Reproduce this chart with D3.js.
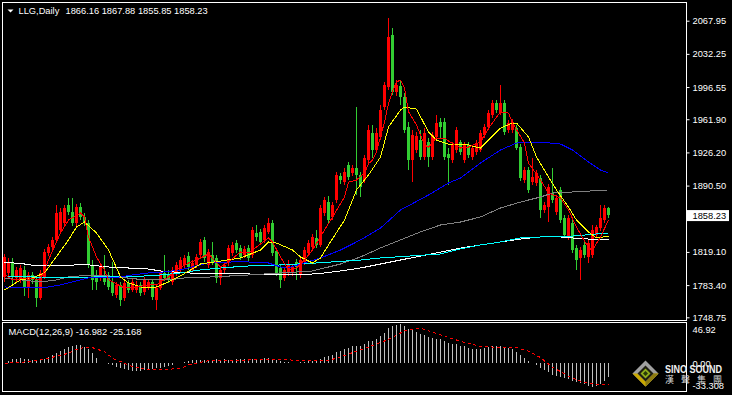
<!DOCTYPE html>
<html>
<head>
<meta charset="utf-8">
<script src="https://cdn.jsdelivr.net/npm/d3@7.9.0/dist/d3.min.js"></script>
<style>
  html, body { margin: 0; padding: 0; background: #000; }
  svg { display: block; }
</style>
</head>
<body>
<div id="chart"></div>
<script>
// daily OHLC, oldest first
const openP = [
  1792.2, 1796.5, 1808.3, 1791.1, 1789.0, 1799.7, 1781.4, 1794.3, 1789.0, 1769.6,
  1792.2, 1818.0, 1824.4, 1832.0, 1842.7, 1850.2, 1869.6, 1862.0, 1850.2, 1867.4,
  1856.7, 1850.2, 1805.1, 1794.3, 1791.1, 1794.3, 1793.3, 1786.8, 1772.8, 1783.6,
  1769.6, 1785.7, 1778.2, 1778.2, 1783.6, 1776.0, 1781.4, 1786.8, 1767.4, 1780.3,
  1796.5, 1795.4, 1786.8, 1796.5, 1799.7, 1805.1, 1814.8, 1799.7, 1805.1, 1815.8,
  1832.0, 1805.1, 1815.8, 1812.6, 1791.1, 1799.7, 1807.2, 1818.0, 1828.7, 1823.4,
  1815.8, 1823.4, 1815.8, 1839.5, 1840.6, 1832.0, 1840.6, 1850.2, 1820.1, 1801.9,
  1791.1, 1796.5, 1797.6, 1808.3, 1794.3, 1808.3, 1818.0, 1824.4, 1834.1, 1826.6,
  1861.0, 1872.8, 1856.7, 1875.0, 1900.8, 1894.3, 1912.6, 1904.0, 1909.4, 1901.9,
  1896.5, 1918.0, 1947.1, 1928.8, 1942.8, 1975.0, 1996.6, 2052.5, 1991.2, 1997.6,
  1985.8, 1953.5, 1918.0, 1928.8, 1939.5, 1921.2, 1937.4, 1921.2, 1942.8, 1958.9,
  1958.9, 1924.5, 1918.0, 1928.8, 1937.4, 1918.0, 1934.2, 1921.2, 1926.6, 1928.8,
  1944.9, 1953.5, 1966.4, 1979.3, 1969.7, 1979.3, 1950.3, 1950.3, 1952.4, 1932.0,
  1896.5, 1907.2, 1894.3, 1893.3, 1898.6, 1864.2, 1867.4, 1882.5, 1862.0, 1885.8,
  1855.6, 1835.2, 1850.2, 1823.4, 1812.6, 1826.6, 1813.7, 1815.8, 1837.3, 1844.8,
  1853.4, 1866.16
];
const highP = [
  1816.9, 1812.6, 1812.6, 1802.9, 1805.1, 1804.0, 1797.6, 1797.6, 1792.2, 1799.7,
  1822.3, 1827.7, 1835.2, 1869.6, 1866.4, 1869.6, 1877.1, 1877.1, 1870.7, 1871.7,
  1861.0, 1853.4, 1810.4, 1799.7, 1806.1, 1815.8, 1797.6, 1808.3, 1786.8, 1786.8,
  1789.0, 1789.0, 1790.0, 1787.9, 1786.8, 1792.2, 1790.0, 1790.0, 1783.6, 1799.7,
  1815.8, 1799.7, 1802.9, 1808.3, 1813.7, 1815.8, 1819.1, 1810.4, 1816.9, 1833.0,
  1835.2, 1822.3, 1829.8, 1815.8, 1802.9, 1808.3, 1826.6, 1829.8, 1832.0, 1826.6,
  1825.5, 1826.6, 1845.9, 1848.1, 1843.8, 1848.1, 1855.6, 1853.4, 1823.4, 1805.1,
  1802.9, 1810.4, 1806.1, 1811.5, 1813.7, 1824.4, 1832.0, 1838.4, 1842.7, 1869.6,
  1878.2, 1879.3, 1872.8, 1905.1, 1904.0, 1909.4, 1915.9, 1912.6, 1975.0, 1905.1,
  1923.4, 1955.7, 1955.7, 1952.4, 1977.2, 2002.0, 2070.8, 2060.1, 2004.1, 2004.1,
  1990.1, 1958.9, 1950.3, 1948.1, 1950.3, 1952.4, 1941.7, 1948.1, 1966.4, 1963.2,
  1963.2, 1930.9, 1937.4, 1953.5, 1939.5, 1937.4, 1937.4, 1934.2, 1939.5, 1950.3,
  1956.8, 1971.8, 1982.6, 1982.6, 1998.7, 1982.6, 1961.1, 1962.1, 1955.7, 1935.2,
  1910.5, 1910.5, 1920.2, 1907.2, 1901.9, 1872.8, 1892.2, 1909.4, 1880.4, 1889.0,
  1858.8, 1858.8, 1853.4, 1826.6, 1824.4, 1832.0, 1832.0, 1848.1, 1848.1, 1869.6,
  1869.6, 1867.88
];
const lowP = [
  1786.8, 1793.3, 1783.6, 1786.8, 1785.7, 1771.7, 1769.6, 1784.7, 1759.8, 1767.4,
  1790.0, 1814.8, 1821.2, 1829.8, 1840.6, 1847.0, 1858.8, 1847.0, 1847.0, 1853.4,
  1847.0, 1801.9, 1778.2, 1778.2, 1787.9, 1783.6, 1778.2, 1771.7, 1769.6, 1760.9,
  1766.3, 1775.0, 1776.0, 1775.0, 1771.7, 1772.8, 1778.2, 1767.4, 1756.6, 1778.2,
  1787.9, 1785.7, 1783.6, 1793.3, 1797.6, 1801.9, 1799.7, 1797.6, 1801.9, 1812.6,
  1808.3, 1801.9, 1805.1, 1785.7, 1783.6, 1796.5, 1804.0, 1814.8, 1818.0, 1810.4,
  1812.6, 1808.3, 1812.6, 1830.9, 1826.6, 1828.7, 1838.4, 1814.8, 1793.3, 1780.3,
  1787.9, 1793.3, 1793.3, 1789.0, 1791.1, 1805.1, 1814.8, 1821.2, 1823.4, 1824.4,
  1857.7, 1850.2, 1853.4, 1871.7, 1892.2, 1891.1, 1896.5, 1900.8, 1880.4, 1878.2,
  1893.3, 1914.8, 1920.2, 1925.5, 1939.5, 1971.8, 1993.3, 1988.0, 1986.9, 1977.2,
  1947.1, 1907.2, 1894.3, 1925.5, 1918.0, 1918.0, 1910.5, 1918.0, 1939.5, 1941.7,
  1918.0, 1891.1, 1914.8, 1925.5, 1923.4, 1914.8, 1920.2, 1918.0, 1923.4, 1926.6,
  1941.7, 1950.3, 1963.2, 1968.6, 1966.4, 1944.9, 1947.1, 1947.1, 1928.8, 1895.4,
  1893.3, 1882.5, 1891.1, 1890.0, 1855.6, 1861.0, 1851.3, 1871.7, 1858.8, 1850.2,
  1834.1, 1832.0, 1818.0, 1799.7, 1789.0, 1812.6, 1807.2, 1812.6, 1834.1, 1841.6,
  1850.2, 1855.85
];
const closeP = [
  1813.7, 1808.3, 1792.2, 1799.7, 1801.9, 1781.4, 1794.3, 1789.0, 1769.6, 1796.5,
  1819.1, 1824.4, 1832.0, 1861.0, 1862.0, 1866.4, 1862.0, 1850.2, 1867.4, 1856.7,
  1850.2, 1805.1, 1789.0, 1786.8, 1802.9, 1786.8, 1781.4, 1775.0, 1783.6, 1767.4,
  1785.7, 1778.2, 1786.8, 1783.6, 1775.0, 1789.0, 1786.8, 1770.6, 1780.3, 1796.5,
  1791.1, 1789.0, 1799.7, 1805.1, 1810.4, 1812.6, 1802.9, 1807.2, 1813.7, 1829.8,
  1812.6, 1819.1, 1808.3, 1791.1, 1799.7, 1805.1, 1823.4, 1826.6, 1821.2, 1813.7,
  1822.3, 1812.6, 1842.7, 1835.2, 1829.8, 1844.8, 1850.2, 1818.0, 1796.5, 1789.0,
  1799.7, 1806.1, 1802.9, 1802.9, 1810.4, 1821.2, 1828.7, 1835.2, 1826.6, 1866.4,
  1875.0, 1853.4, 1869.6, 1901.9, 1896.5, 1905.1, 1899.7, 1909.4, 1901.9, 1889.0,
  1920.2, 1950.3, 1928.8, 1947.1, 1971.8, 1998.7, 2050.4, 1991.2, 1998.7, 1985.8,
  1950.3, 1918.0, 1944.9, 1943.8, 1921.2, 1947.1, 1921.2, 1944.9, 1957.8, 1953.5,
  1921.2, 1920.2, 1934.2, 1950.3, 1926.6, 1934.2, 1923.4, 1930.9, 1936.3, 1947.1,
  1953.5, 1968.6, 1979.3, 1971.8, 1979.3, 1948.1, 1957.8, 1958.9, 1930.9, 1898.6,
  1907.2, 1885.8, 1899.7, 1904.0, 1864.2, 1869.6, 1889.0, 1875.0, 1877.1, 1853.4,
  1837.3, 1855.6, 1821.2, 1810.4, 1821.2, 1815.8, 1828.7, 1842.7, 1845.9, 1855.6,
  1866.4, 1858.23
];

// moving averages: [bar index, price]
const maRed = [
  [0, 1795.0], [2, 1789.0], [6, 1791.1], [9, 1789.0], [11, 1810.4], [14, 1839.5], [16, 1853.4],
  [19, 1861.0], [20, 1856.7], [21, 1835.2], [23, 1813.7], [25, 1799.7], [26, 1789.0], [30, 1780.3],
  [33, 1781.4], [36, 1783.6], [38, 1783.6], [41, 1792.2], [43, 1799.7], [46, 1807.2], [48, 1810.4],
  [51, 1816.9], [54, 1802.9], [56, 1808.3], [59, 1819.1], [61, 1818.0], [63, 1824.4], [66, 1834.1],
  [67, 1829.8], [69, 1813.7], [71, 1799.7], [73, 1801.9], [75, 1810.4], [77, 1821.2], [80, 1842.7],
  [82, 1856.7], [85, 1878.2], [86, 1894.3], [88, 1896.5], [90, 1904.0], [91, 1914.0], [92, 1918.0],
  [93, 1927.0], [94, 1943.0], [95, 1959.0], [96, 1979.0], [97, 1992.0], [98, 2002.0], [99, 2004.0],
  [100, 1996.0], [101, 1970.0], [103, 1955.7], [105, 1934.2], [106, 1932.0], [108, 1941.7],
  [110, 1941.7], [111, 1938.5], [114, 1930.9], [116, 1932.0], [119, 1937.4], [121, 1952.4],
  [124, 1969.7], [126, 1968.6], [127, 1957.8], [130, 1936.3], [131, 1914.8], [134, 1896.5],
  [136, 1882.5], [139, 1877.1], [141, 1864.2], [143, 1845.9], [146, 1823.4], [147, 1821.2],
  [149, 1835.2], [151, 1853.4]
];
const maYellow = [
  [0, 1778.1], [4, 1789.0], [7, 1791.1], [10, 1796.5], [12, 1808.3], [16, 1832.0], [18, 1845.9],
  [20, 1851.3], [23, 1839.5], [26, 1821.2], [29, 1792.2], [31, 1785.7], [35, 1780.3], [38, 1781.4],
  [41, 1786.8], [44, 1793.3], [49, 1806.1], [54, 1809.3], [59, 1812.6], [64, 1821.2], [66, 1829.8],
  [68, 1828.7], [72, 1821.2], [74, 1813.7], [77, 1807.2], [79, 1812.6], [81, 1826.6], [85, 1853.4],
  [88, 1885.8], [91, 1901.9], [94, 1921.2], [96, 1953.5], [99, 1971.8], [100, 1975.0], [103, 1972.9],
  [106, 1948.1], [108, 1939.5], [111, 1935.2], [116, 1934.2], [119, 1930.9], [121, 1939.5],
  [124, 1952.4], [127, 1957.8], [128, 1957.8], [131, 1942.8], [133, 1921.2], [136, 1899.7],
  [138, 1885.8], [141, 1867.4], [143, 1853.4], [146, 1840.6], [148, 1834.1], [151, 1836.2]
];
const maBlue = [
  [0, 1781.4], [7, 1780.3], [11, 1781.4], [14, 1783.6], [17, 1786.8], [21, 1791.1], [24, 1791.1],
  [29, 1792.2], [32, 1794.3], [36, 1796.5], [40, 1797.6], [44, 1799.7], [47, 1802.9], [51, 1807.2],
  [57, 1808.3], [61, 1808.3], [66, 1807.2], [69, 1802.9], [71, 1801.9], [74, 1806.1], [79, 1812.6],
  [84, 1821.2], [89, 1832.0], [94, 1844.8], [99, 1864.2], [106, 1880.4], [111, 1893.3], [114, 1898.6],
  [119, 1914.8], [124, 1928.8], [128, 1936.3], [131, 1937.4], [134, 1937.4], [139, 1935.2],
  [142, 1928.8], [146, 1915.9], [149, 1907.2], [151, 1904.0]
];
const maGray = [
  [0, 1791.1], [4, 1789.0], [9, 1786.8], [13, 1789.0], [16, 1792.2], [19, 1793.3], [26, 1793.3],
  [35, 1789.0], [41, 1789.0], [45, 1791.1], [52, 1792.2], [61, 1794.3], [69, 1796.5], [77, 1798.6],
  [84, 1806.1], [89, 1813.7], [94, 1823.4], [99, 1832.0], [104, 1840.6], [109, 1848.1], [114, 1851.3],
  [119, 1856.7], [124, 1866.4], [129, 1872.8], [134, 1878.2], [137, 1882.5], [142, 1883.6], [151, 1885.8]
];
const maCyan = [
  [0, 1793.3], [7, 1792.2], [14, 1791.1], [23, 1792.2], [31, 1792.2], [39, 1794.3], [44, 1796.5],
  [49, 1799.7], [54, 1801.9], [61, 1804.0], [69, 1805.1], [78, 1807.2], [89, 1810.4], [94, 1812.6],
  [109, 1816.9], [114, 1822.3], [119, 1826.6], [124, 1829.8], [129, 1834.1], [134, 1835.2],
  [142, 1836.2], [151, 1839.5]
];
const maWhite = [
  [0, 1808.2], [5, 1806.1], [8, 1804.0], [16, 1804.0], [19, 1806.1], [26, 1802.9], [31, 1801.8],
  [36, 1800.7], [39, 1798.6], [42, 1797.6], [46, 1796.5], [51, 1795.4], [61, 1795.4], [68, 1794.3],
  [74, 1794.3], [80, 1796.5], [84, 1798.6], [89, 1801.8], [94, 1806.1], [109, 1819.0], [114, 1823.3],
  [119, 1826.6], [124, 1829.8], [129, 1833.0], [134, 1835.2], [139, 1835.2], [142, 1834.1],
  [146, 1833.0], [151, 1832.0]
];

// MACD(12,26,9): main line as histogram, one value per bar
const macdMain = [
  0.3, 3.0, 4.7, 4.7, 5.9, 4.7, 4.7, 3.8, 3.8, 4.7,
  5.4, 7.1, 9.8, 11.9, 14.6, 17.0, 19.0, 20.6, 21.4, 21.8,
  19.8, 17.0, 11.9, 5.9, 0.6, -0.3, -0.5, -2.2, -4.2, -6.1,
  -7.3, -8.1, -9.0, -9.0, -9.0, -8.1, -8.1, -7.3, -6.1, -5.4,
  -4.2, -3.4, -2.2, -0.1, 0.6, 1.4, 2.3, 3.8, 3.8, 3.8,
  4.2, 3.8, 3.8, 4.7, 3.8, 4.7, 3.8, 3.8, 4.7, 4.7,
  4.7, 4.2, 5.0, 5.5, 5.5, 6.0, 6.5, 5.5, 4.0, 2.5,
  1.5, 1.0, 0.8, 0.8, 1.0, 1.5, 2.2, 3.0, 3.0, 5.5,
  8.0, 8.5, 10.0, 13.0, 15.0, 17.0, 18.5, 20.0, 20.5, 20.5,
  22.5, 26.0, 27.0, 29.0, 32.0, 36.0, 42.0, 44.0, 46.0, 46.9,
  45.0, 41.5, 39.5, 37.5, 35.0, 33.5, 31.0, 30.0, 29.5, 28.5,
  26.0, 24.0, 23.0, 22.5, 21.0, 20.0, 18.5, 17.5, 17.0, 17.5,
  18.0, 19.0, 20.5, 20.5, 21.0, 19.5, 18.5, 17.5, 13.0, 9.5,
  6.0, 3.0, 0.5, -2.5, -5.5, -8.0, -11.0, -14.1, -15.3, -16.1,
  -18.1, -19.3, -21.3, -22.9, -24.1, -25.3, -27.0, -28.1, -27.0, -24.5,
  -21.0, -16.982
];
const macdSignal = [
  [0, -0.1], [3, 0.6], [7, 2.3], [11, 5.9], [16, 11.9], [18, 16.6], [20, 19.0], [22, 18.6],
  [25, 13.8], [27, 5.9], [30, -0.1], [32, -4.2], [36, -8.1], [41, -7.3], [44, -6.1], [46, -2.2],
  [49, 1.1], [52, 3.8], [57, 3.8], [61, 3.8], [66, 4.4], [71, 4.0], [76, 2.6], [81, 3.0],
  [86, 10.9], [91, 19.2], [96, 28.4], [100, 38.8], [104, 41.9], [109, 34.0], [114, 26.2],
  [119, 20.1], [124, 18.8], [128, 18.6], [131, 14.3], [134, 6.7], [137, -5.0], [139, -10.0],
  [141, -15.5], [144, -21.5], [146, -24.0], [149, -25.5], [151, -25.168]
];

const priceTicks = [2067.95, 2032.25, 1996.55, 1961.90, 1926.20, 1890.50, 1854.80, 1819.10, 1783.40, 1748.75];
const macdTicks = [46.92, 0, -33.308];
const macdTickLabels = ['46.92', '0.00', '-33.308'];
const lastPrice = 1858.23;

const width = 732;
const height = 395;
const main = { left: 2.5, right: 686.5, top: 2.5, bottom: 320.5 };
const sub = { top: 322.5, bottom: 391.5 };
const font = '"Liberation Sans", Arial, sans-serif';
const upColor = '#ff0000';
const downColor = '#32cd32';

const x = d3.scaleLinear().domain([0, closeP.length - 1]).range([4, 608]);
const y = d3.scaleLinear().domain([1748.75, 2067.95]).range([317.3, 20.7]);
const yM = d3.scaleLinear().domain([-33.308, 46.92]).range([391, 324]);

const svg = d3.select('#chart').append('svg')
  .attr('width', width).attr('height', height)
  .style('background', '#000');

const defs = svg.append('defs');
defs.append('clipPath').attr('id', 'clipMain').append('rect')
  .attr('x', main.left).attr('y', main.top)
  .attr('width', main.right - main.left).attr('height', main.bottom - main.top);
defs.append('clipPath').attr('id', 'clipSub').append('rect')
  .attr('x', main.left).attr('y', sub.top)
  .attr('width', main.right - main.left).attr('height', sub.bottom - sub.top);

// panel frames
svg.append('rect')
  .attr('x', main.left).attr('y', main.top)
  .attr('width', main.right - main.left).attr('height', main.bottom - main.top)
  .attr('fill', 'none').attr('stroke', '#fff');
svg.append('rect')
  .attr('x', main.left).attr('y', sub.top)
  .attr('width', main.right - main.left).attr('height', sub.bottom - sub.top)
  .attr('fill', 'none').attr('stroke', '#fff');

const candles = closeP.map((c, i) => ({ i, o: openP[i], h: highP[i], l: lowP[i], c }));
const cx = (i) => Math.round(x(i));

const plot = svg.append('g').attr('clip-path', 'url(#clipMain)');

plot.append('g').selectAll('line')
  .data(candles)
  .join('line')
  .attr('x1', (d) => cx(d.i) + 0.5)
  .attr('x2', (d) => cx(d.i) + 0.5)
  .attr('y1', (d) => Math.round(y(d.h)))
  .attr('y2', (d) => Math.round(y(d.l)))
  .attr('stroke', (d) => (d.c >= d.o ? upColor : downColor))
  .attr('shape-rendering', 'crispEdges');

plot.append('g').selectAll('rect')
  .data(candles)
  .join('rect')
  .attr('x', (d) => cx(d.i) - 1)
  .attr('width', 3)
  .attr('y', (d) => Math.round(y(Math.max(d.o, d.c))))
  .attr('height', (d) => Math.max(1, Math.round(Math.abs(y(d.o) - y(d.c)))))
  .attr('fill', (d) => (d.c >= d.o ? upColor : downColor))
  .attr('shape-rendering', 'crispEdges');

const maLine = d3.line().x((d) => x(d[0]) + 0.5).y((d) => y(d[1]));
[
  [maWhite, '#ffffff'],
  [maGray, '#808080'],
  [maCyan, '#00ffff'],
  [maBlue, '#0000ff'],
  [maYellow, '#ffff00'],
  [maRed, '#ff0000'],
].forEach(([data, color]) => {
  plot.append('path')
    .datum(data)
    .attr('d', maLine)
    .attr('fill', 'none')
    .attr('stroke', color)
    .attr('stroke-width', 1)
    .attr('shape-rendering', 'crispEdges');
});

// price axis (the label under the current-price tag stays hidden, as in MT4)
const axis = svg.append('g')
  .attr('transform', `translate(${main.right},0)`)
  .call(d3.axisRight(y).tickValues(priceTicks).tickSize(3).tickPadding(3)
    .tickFormat((d) => (Math.abs(d - lastPrice) < 10 ? '' : d3.format('.2f')(d))));
axis.select('.domain').remove();
axis.selectAll('line').attr('stroke', '#fff');
axis.attr('font-family', font).attr('font-size', 9.3);
axis.selectAll('text').attr('fill', '#fff');

// current price tag
const tag = svg.append('g').attr('transform', `translate(${main.right + 0.5},${y(lastPrice)})`);
tag.append('rect').attr('x', 0).attr('y', -5.5).attr('width', 42).attr('height', 11).attr('fill', '#fff');
tag.append('text').attr('x', 5.5).attr('dy', '0.34em')
  .attr('font-family', font).attr('font-size', 9.3).attr('fill', '#000')
  .text(d3.format('.2f')(lastPrice));

// title
svg.append('path').attr('d', 'M7.5,9.5 L13.5,9.5 L10.5,12.5 Z').attr('fill', '#fff');
svg.append('text').attr('x', 18.5).attr('y', 14.3)
  .attr('font-family', font).attr('font-size', 9.3).attr('fill', '#fff')
  .text('LLG,Daily');
svg.append('text').attr('x', 65.5).attr('y', 14.3)
  .attr('font-family', font).attr('font-size', 9.3).attr('fill', '#fff')
  .text(`${openP[openP.length - 1]} ${highP[highP.length - 1]} ${lowP[lowP.length - 1]} ${closeP[closeP.length - 1]}`);

// MACD sub-window
const macdG = svg.append('g').attr('clip-path', 'url(#clipSub)');
macdG.append('g').selectAll('line')
  .data(macdMain)
  .join('line')
  .attr('x1', (d, i) => cx(i) + 0.5)
  .attr('x2', (d, i) => cx(i) + 0.5)
  .attr('y1', Math.round(yM(0)))
  .attr('y2', (d) => Math.round(yM(d)))
  .attr('stroke', '#c0c0c0')
  .attr('shape-rendering', 'crispEdges');

macdG.append('path')
  .datum(macdSignal)
  .attr('d', d3.line().x((d) => x(d[0]) + 0.5).y((d) => yM(d[1])))
  .attr('fill', 'none')
  .attr('stroke', '#ff0000')
  .attr('stroke-dasharray', '3,3')
  .attr('shape-rendering', 'crispEdges');

svg.append('text').attr('x', 8.5).attr('y', 335)
  .attr('font-family', font).attr('font-size', 9.3).attr('fill', '#fff')
  .text(`MACD(12,26,9) ${macdMain[macdMain.length - 1]} ${macdSignal[macdSignal.length - 1][1]}`);

const mAxis = svg.append('g')
  .attr('transform', `translate(${main.right},0)`)
  .call(d3.axisRight(yM).tickValues(macdTicks).tickSize(0).tickPadding(6)
    .tickFormat((d, i) => macdTickLabels[i]));
mAxis.select('.domain').remove();
mAxis.attr('font-family', font).attr('font-size', 9.3);
mAxis.selectAll('text').attr('fill', '#fff')
  .attr('dy', (d, i) => (i === 0 ? '0.95em' : i === 2 ? '-0.3em' : '0.32em'));

// watermark
const wm = svg.append('g').attr('transform', 'translate(645.5,373.5)');
wm.append('path').attr('d', 'M0,-13 L13,0 L0,13 L-13,0 Z').attr('fill', '#a0a0a0');
wm.append('path').attr('d', 'M-13,0 L0,13 L13,0 L8,0 L0,8 L-8,0 Z').attr('fill', '#c9a800');
wm.append('path').attr('d', 'M0,13 L13,0 L8,0 L0,8 Z').attr('fill', '#8c7a10');
wm.append('path').attr('d', 'M0,-8 L8,0 L0,8 L-8,0 Z').attr('fill', '#1e1e12');
wm.append('path').attr('d', 'M0,-5 L5,0 L0,5 L-5,0 Z').attr('fill', '#8fae1b');
wm.append('path').attr('d', 'M0,-2.5 L2.5,0 L0,2.5 L-2.5,0 Z').attr('fill', '#2a3a08');
svg.append('text').attr('x', 665).attr('y', 372.5)
  .attr('font-family', font).attr('font-weight', 'bold').attr('font-size', 11)
  .attr('textLength', 57).attr('lengthAdjust', 'spacingAndGlyphs')
  .attr('fill', '#f2f2f2')
  .text('SINO SOUND');
svg.append('text').attr('x', 665).attr('y', 383)
  .attr('font-family', '"Noto Sans CJK TC", sans-serif').attr('font-size', 9)
  .attr('textLength', 57).attr('lengthAdjust', 'spacing')
  .attr('fill', '#d8d8d8')
  .text('漢聲集團');
</script>
</body>
</html>
